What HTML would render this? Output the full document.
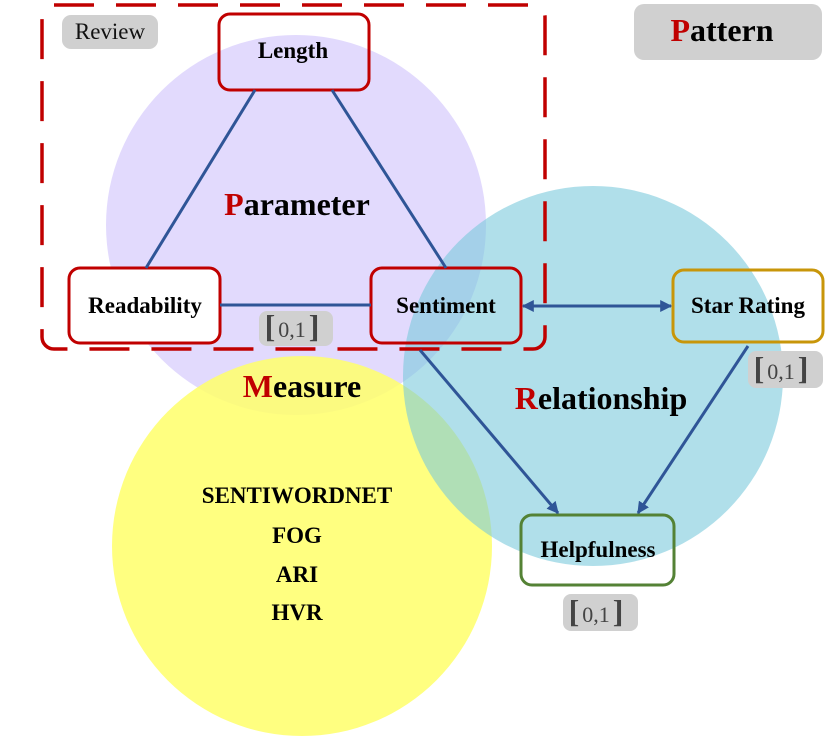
<!DOCTYPE html>
<html><head><meta charset="utf-8"><style>
html,body{margin:0;padding:0;background:#fff;width:827px;height:736px;overflow:hidden}
svg text{font-family:"Liberation Serif",serif}
</style></head><body>
<svg width="827" height="736" viewBox="0 0 827 736" xmlns="http://www.w3.org/2000/svg">
<defs>
<marker id="ah" viewBox="0 0 10 10" refX="9" refY="5" markerWidth="4" markerHeight="4" orient="auto-start-reverse"><path d="M0,0L10,5L0,10z" fill="#2f5597"/></marker>
</defs>
<g fill="#fff">
<rect x="219" y="14" width="150" height="76" rx="11"/>
<rect x="371" y="268" width="150" height="75" rx="11"/>
<rect x="673" y="270" width="150" height="72" rx="11"/>
<rect x="521" y="515" width="153" height="70" rx="11"/>
</g>
<circle cx="296" cy="225" r="190" fill="rgba(197,181,251,0.5)"/>
<circle cx="302" cy="546" r="190" fill="rgba(255,255,106,0.85)"/>
<circle cx="593" cy="376" r="190" fill="rgba(121,201,219,0.59)"/>
<rect x="69" y="268" width="151" height="75" rx="11" fill="#fff" stroke="#c00000" stroke-width="3"/>
<g fill="none" stroke-width="3">
<rect x="219" y="14" width="150" height="76" rx="11" stroke="#c00000"/>
<rect x="371" y="268" width="150" height="75" rx="11" stroke="#c00000"/>
<rect x="673" y="270" width="150" height="72" rx="11" stroke="#c8960a"/>
<rect x="521" y="515" width="153" height="70" rx="11" stroke="#548235"/>
</g>
<rect x="42" y="5" width="503" height="344" rx="12" fill="none" stroke="#c00000" stroke-width="3.5" stroke-dasharray="40,22"/>
<g stroke="#2f5597" stroke-width="3" fill="none">
<line x1="255" y1="90" x2="146" y2="268"/>
<line x1="332" y1="90" x2="446" y2="268"/>
<line x1="220" y1="305" x2="371" y2="305"/>
<line x1="523" y1="306" x2="671" y2="306" marker-start="url(#ah)" marker-end="url(#ah)"/>
<line x1="420" y1="350" x2="558" y2="513" marker-end="url(#ah)"/>
<line x1="748" y1="346" x2="638" y2="513" marker-end="url(#ah)"/>
</g>
<g><rect x="62" y="15" width="96" height="34" rx="9" fill="#d0d0d0"/><text x="110" y="39" font-size="23" text-anchor="middle" fill="#111">Review</text></g>
<g><rect x="634" y="4" width="188" height="56" rx="10" fill="#d0d0d0"/><text x="722" y="41" font-size="32" font-weight="bold" text-anchor="middle" fill="#000"><tspan fill="#c00000">P</tspan>attern</text></g>
<g font-weight="bold" font-size="23" text-anchor="middle" fill="#000">
<text x="293" y="58">Length</text>
<text x="145" y="313">Readability</text>
<text x="446" y="313">Sentiment</text>
<text x="748" y="313">Star Rating</text>
<text x="598" y="557">Helpfulness</text>
</g>
<g font-weight="bold" font-size="32" text-anchor="middle" fill="#000">
<text x="297" y="215"><tspan fill="#c00000">P</tspan>arameter</text>
<text x="302" y="397"><tspan fill="#c00000">M</tspan>easure</text>
<text x="601" y="409"><tspan fill="#c00000">R</tspan>elationship</text>
</g>
<g font-weight="bold" font-size="23" text-anchor="middle" fill="#000">
<text x="297" y="503">SENTIWORDNET</text>
<text x="297" y="543">FOG</text>
<text x="297" y="582">ARI</text>
<text x="297" y="620">HVR</text>
</g>
<g><rect x="259" y="311" width="74" height="35" rx="8" fill="#d0d0d0"/><text x="296" y="337" font-size="22" text-anchor="middle" fill="#444"><tspan font-size="32" font-weight="bold" dx="-4">[</tspan><tspan dx="3">0,1</tspan><tspan font-size="32" font-weight="bold" dx="3">]</tspan></text></g>
<g><rect x="748" y="351" width="75" height="37" rx="8" fill="#d0d0d0"/><text x="785" y="379" font-size="22" text-anchor="middle" fill="#444"><tspan font-size="32" font-weight="bold" dx="-4">[</tspan><tspan dx="3">0,1</tspan><tspan font-size="32" font-weight="bold" dx="3">]</tspan></text></g>
<g><rect x="563" y="594" width="75" height="37" rx="8" fill="#d0d0d0"/><text x="600" y="622" font-size="22" text-anchor="middle" fill="#444"><tspan font-size="32" font-weight="bold" dx="-4">[</tspan><tspan dx="3">0,1</tspan><tspan font-size="32" font-weight="bold" dx="3">]</tspan></text></g>
</svg>
</body></html>
